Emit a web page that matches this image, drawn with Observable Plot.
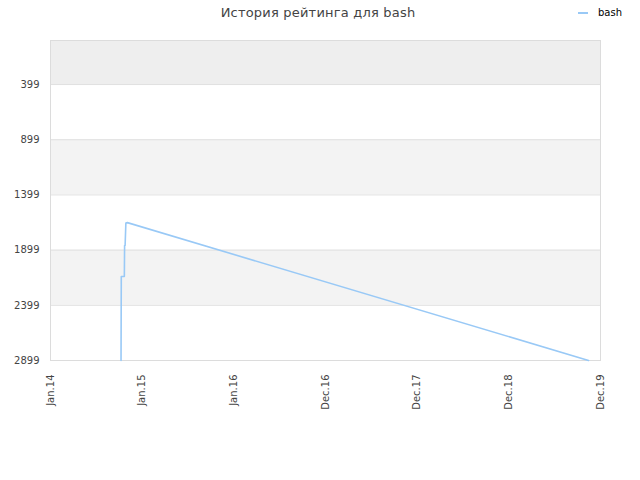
<!DOCTYPE html>
<html>
<head>
<meta charset="utf-8">
<script src="https://cdn.jsdelivr.net/npm/d3@7"></script>
<script src="https://cdn.jsdelivr.net/npm/@observablehq/plot@0.6"></script>
<style>
  html, body { margin: 0; padding: 0; background: #fff; }
  #wrap { position: relative; width: 640px; height: 480px; font-family: "DejaVu Sans", sans-serif; }
  #title { position: absolute; top: 5px; left: 0; width: 636px; text-align: center; font-size: 13px; color: #444; letter-spacing: 0.2px; }
  #legend { position: absolute; top: 7px; left: 578px; font-size: 10px; color: #000; display: flex; align-items: center; }
  #legend .sw { width: 10px; height: 2px; background: #99c9f6; margin-right: 10px; }
</style>
</head>
<body>
<div id="wrap">
  <div id="title">История рейтинга для bash</div>
  <div id="legend"><span class="sw"></span><span>bash</span></div>
</div>
<script>
const seriesName = "bash";
const dates = ["2014-10-05", "2014-10-06", "2014-10-18", "2014-10-19", "2014-10-21", "2014-10-24", "2014-10-30", "2019-10-15"];
const ranks = [2899, 2138, 2138, 1857, 1857, 1653, 1650, 2899];
const xTickDates = ["2014-01-01", "2014-12-27", "2015-12-22", "2016-12-16", "2017-12-11", "2018-12-06", "2019-12-01"];
const xTickLabels = ["Jan.14", "Jan.15", "Jan.16", "Dec.16", "Dec.17", "Dec.18", "Dec.19"];
const yTicks = [399, 899, 1399, 1899, 2399, 2899];
const yBandEdges = [0, 399, 899, 1399, 1899, 2399, 2899];
const bandFills = ["#eeeeee", "#ffffff", "#f3f3f3", "#ffffff", "#f3f3f3", "#ffffff"];

const data = dates.map((d, i) => ({date: new Date(d), rank: ranks[i]}));
const xTicks = xTickDates.map(d => new Date(d));
const bands = bandFills.map((f, i) => ({y1: yBandEdges[i], y2: yBandEdges[i + 1], fill: f}));
const x0 = xTicks[0], x1 = xTicks[xTicks.length - 1];

const chart = Plot.plot({
  width: 640,
  height: 480,
  marginTop: 40,
  marginLeft: 50,
  marginRight: 40,
  marginBottom: 120,
  style: {fontFamily: "DejaVu Sans, sans-serif", fontSize: "10px", color: "#444", background: "transparent"},
  x: {type: "utc", domain: [x0, x1]},
  y: {domain: [0, 2899], reverse: true},
  marks: [
    Plot.rect(bands, {x1: () => x0, x2: () => x1, y1: "y1", y2: "y2", fill: "fill"}),
    Plot.ruleY(yTicks, {stroke: "#e0e0e0"}),
    Plot.frame({stroke: "#dcdcdc"}),
    Plot.axisY(yTicks, {tickSize: 0, tickPadding: 11, tickFormat: d => String(d), label: null}),
    Plot.axisX(xTicks, {tickSize: 0, tickPadding: 14, tickRotate: -90, tickFormat: (d, i) => xTickLabels[i], label: null}),
    Plot.line(data, {x: "date", y: "rank", stroke: "#99c9f6", strokeWidth: 1.6, curve: "linear"})
  ]
});
chart.style.position = "absolute";
chart.style.left = "0";
chart.style.top = "0";
document.getElementById("wrap").prepend(chart);
</script>
</body>
</html>
